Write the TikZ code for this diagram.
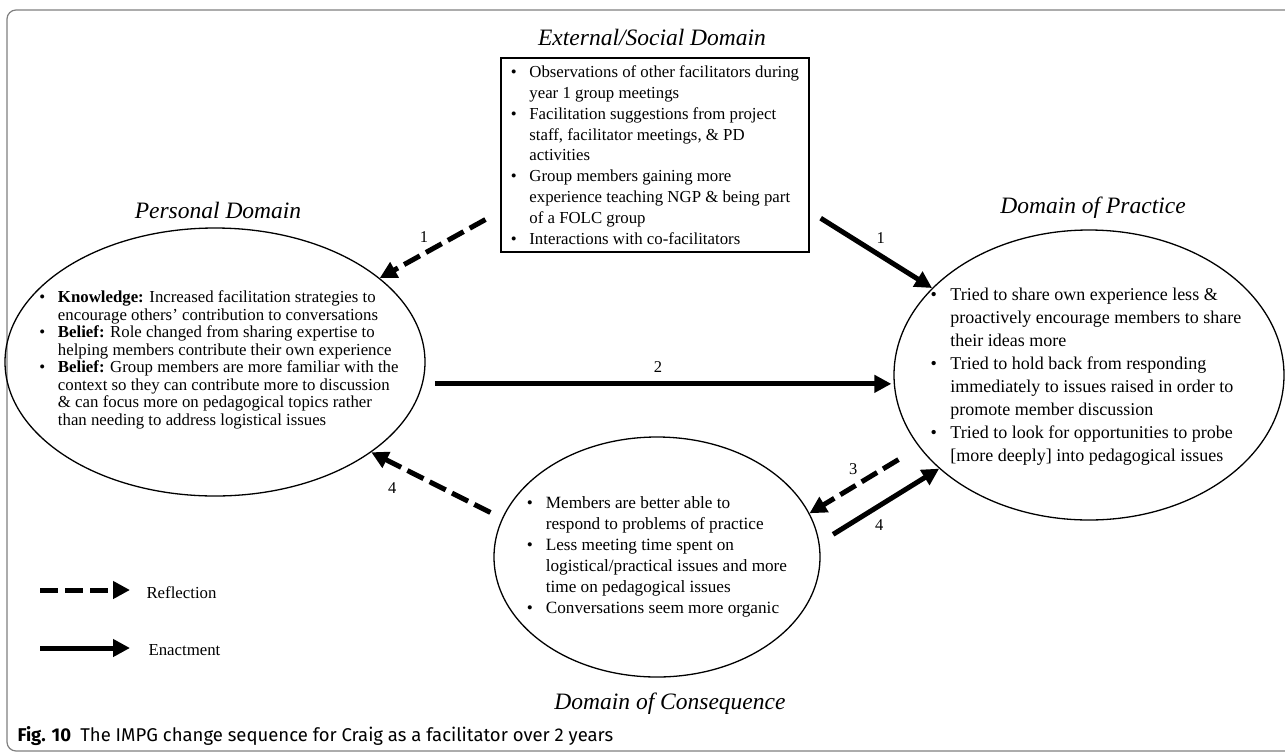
\documentclass[tikz,border=0pt]{standalone}
\usepackage{fontspec}
\setmainfont{Liberation Serif}
\newfontfamily\capfont{Fira Sans}
\usepackage{tikz}
\usetikzlibrary{arrows.meta,positioning,calc,shapes.geometric}

\newcommand{\bul}{\makebox[1.1em][l]{\textbullet}}
\newcommand{\ind}{\hspace*{1.1em}}

\tikzset{
  domtitle/.style={font=\fontsize{23.5}{28}\selectfont\itshape},
  oval/.style={draw, ellipse, line width=1.3pt, inner sep=0pt},
  body/.style={align=left, font=\fontsize{16.8}{20.8}\selectfont},
  num/.style={font=\fontsize{16.5}{20}\selectfont},
  enact/.style={line width=5pt, -{Triangle[length=17pt,width=17pt]}},
  refl/.style={enact, dash pattern=on 18pt off 7pt},
}

\begin{document}
\begin{tikzpicture}[x=1pt,y=-1pt]
\useasboundingbox (0,0) rectangle (1285,753);
% Frame
\draw[gray, line width=1.2pt, rounded corners=9pt] (1295,10) -- (7,10) -- (7,751) -- (1295,751);

% External/social domain
\node[domtitle] (exttitle) at (652,37) {External/Social Domain};
\node[draw, line width=1.3pt, minimum width=308pt, minimum height=194pt, inner sep=0pt, body] (ext) at (655,155)
  {\bul Observations of other facilitators during\\
   \ind year 1 group meetings\\
   \bul Facilitation suggestions from project\\
   \ind staff, facilitator meetings, \& PD\\
   \ind activities\\
   \bul Group members gaining more\\
   \ind experience teaching NGP \& being part\\
   \ind of a FOLC group\\
   \bul Interactions with co-facilitators};

% Personal domain
\node[domtitle] (perstitle) at (218,210) {Personal Domain};
\node[oval, minimum width=420pt, minimum height=268pt] (pers) at (215,362) {};
\node[body, font=\fontsize{16.8}{17.5}\selectfont] (perstext) at (219,360)
  {\bul \textbf{Knowledge:} Increased facilitation strategies to\\
   \ind encourage others' contribution to conversations\\
   \bul \textbf{Belief:} Role changed from sharing expertise to\\
   \ind helping members contribute their own experience\\
   \bul \textbf{Belief:} Group members are more familiar with the\\
   \ind context so they can contribute more to discussion\\
   \ind \& can focus more on pedagogical topics rather\\
   \ind than needing to address logistical issues};

% Domain of practice
\node[domtitle] (practitle) at (1093,208) {Domain of Practice};
\node[oval, minimum width=390pt, minimum height=290pt] (prac) at (1089,375) {};
\node[body, font=\fontsize{18}{23}\selectfont] (practext) at (1086,377)
  {\bul Tried to share own experience less \&\\
   \ind proactively encourage members to share\\
   \ind their ideas more\\
   \bul Tried to hold back from responding\\
   \ind immediately to issues raised in order to\\
   \ind promote member discussion\\
   \bul Tried to look for opportunities to probe\\
   \ind [more deeply] into pedagogical issues};

% Domain of consequence
\node[oval, minimum width=326pt, minimum height=240pt] (cons) at (657,557) {};
\node[body, font=\fontsize{17.2}{21}\selectfont] (constext) at (cons.center)
  {\bul Members are better able to\\
   \ind respond to problems of practice\\
   \bul Less meeting time spent on\\
   \ind logistical/practical issues and more\\
   \ind time on pedagogical issues\\
   \bul Conversations seem more organic};
\node[domtitle] (constitle) at (670,704) {Domain of Consequence};

% Arrows
\draw[refl, shorten <=17pt] (ext.200) -- (pers.27) node[num, pos=0.55, above left] (n1a) {1};
\draw[enact, shorten <=13pt] (ext.-20) -- (prac.151) node[num, pos=0.5, above right] (n1b) {1};
\draw[enact, shorten <=12pt, shorten >=2pt] (pers.-6.5) -- (pers.-6.5 -| prac.west) node[num, midway, above=6pt] (n2) {2};
\draw[refl, shorten <=24pt] (prac.-157) -- (cons.16) node[num, pos=0.6, above=6pt] (n3) {3};
\draw[enact, shorten <=16pt] (cons.5) -- (prac.-148) node[num, pos=0.5, below=8pt] (n4a) {4};
\draw[refl, shorten <=13pt] (cons.166) -- (pers.-30) node[num, pos=0.72, below left=8pt] (n4b) {4};

% Legend
\coordinate (reflstart) at (40,590);
\node[body, anchor=west] (refllbl) at (143,593) {Reflection};
\draw[refl, shorten >=13pt] (reflstart) -- (reflstart -| refllbl.west);
\coordinate (enactstart) at (40,648);
\node[body, anchor=west] (enactlbl) at (145,650) {Enactment};
\draw[enact, shorten >=15pt] (enactstart) -- (enactstart -| enactlbl.west);

% Caption
\node[anchor=west, font=\capfont\fontsize{18.5}{21}\selectfont] (caption) at (14,736)
  {\textbf{Fig. 10}\hspace{0.5em}The IMPG change sequence for Craig as a facilitator over 2 years};
\end{tikzpicture}
\end{document}
